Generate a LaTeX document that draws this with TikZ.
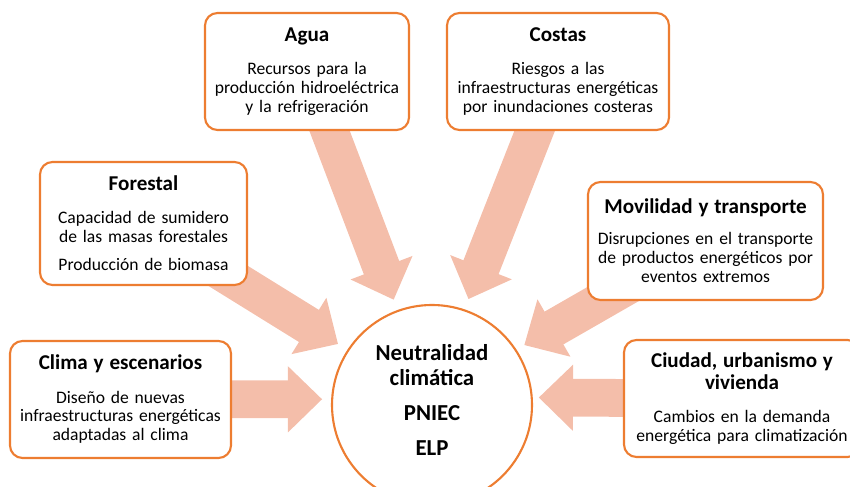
\documentclass[tikz,border=0pt]{standalone}
\usepackage{fontspec}
\setmainfont{Carlito}
\usetikzlibrary{arrows.meta,backgrounds}
\definecolor{naranja}{RGB}{237,125,49}
\definecolor{salmon}{RGB}{244,190,170}
\newcommand{\titulo}[1]{{\fontsize{12}{13}\selectfont\bfseries #1}}

\begin{document}
\begin{tikzpicture}[
  caja/.style={draw=naranja,line width=1.2pt,fill=white,rounded corners=0.25cm,
    align=center,inner xsep=0.1cm,minimum height=2.34cm,
    font=\fontsize{10}{10.8}\selectfont},
  flecha/.style={salmon,line width=21.5pt,-{Triangle[length=19.5pt,width=36.5pt]}}]
\useasboundingbox (0,0) rectangle (17,9.74);
% centro
\node[circle,draw=naranja,line width=1.2pt,fill=white,minimum size=4cm,
  label={[align=center,yshift=0.1cm,font=\fontsize{13}{14}\selectfont\bfseries]center:
  Neutralidad\\climática\\[6pt]PNIEC\\[6pt]ELP}] (neutra) at (8.64,1.64) {};
% sectores
\node[caja,text width=3.88cm] (agua) at (6.14,8.31)
  {\titulo{Agua}\\[8pt]Recursos para la\\producción hidroeléctrica\\y la refrigeración};
\node[caja,text width=4.24cm] (costas) at (11.16,8.31)
  {\titulo{Costas}\\[8pt]Riesgos a las\\infraestructuras energéticas\\por inundaciones costeras};
\node[caja,text width=3.94cm,minimum height=2.46cm] (forestal) at (2.87,5.27)
  {\titulo{Forestal}\\[8pt]Capacidad de sumidero\\de las masas forestales\\[5pt]Producción de biomasa};
\node[caja,text width=4.50cm,minimum height=2.36cm] (movil) at (14.11,4.92)
  {\titulo{Movilidad y transporte}\\[7pt]Disrupciones en el transporte\\de productos energéticos por\\eventos extremos};
\node[caja,text width=4.22cm] (clima) at (2.41,1.75)
  {\titulo{Clima y escenarios}\\[8pt]Diseño de nuevas\\infraestructuras energéticas\\adaptadas al clima};
\node[caja,text width=4.52cm] (ciudad) at (14.84,1.77)
  {\titulo{Ciudad, urbanismo y\\[1.5pt]vivienda}\\[8pt]Cambios en la demanda\\energética para climatización};
% puntas
\path (neutra.center) ++(110:2.24) coordinate (pAgua);
\path (neutra.center) ++(71:2.24) coordinate (pCostas);
\path (neutra.center) ++(147:2.24) coordinate (pForestal);
\path (neutra.center) ++(33:2.2) coordinate (pMovil);
\path (neutra.center) ++(177:2.2) coordinate (pClima);
\path (neutra.center) ++(4:2.14) coordinate (pCiudad);
% flechas
\begin{scope}[on background layer]
\draw[flecha] (agua.center) -- (pAgua);
\draw[flecha] (costas.center) -- (pCostas);
\draw[flecha] (forestal.center) -- (pForestal);
\draw[flecha] (movil.center) -- (pMovil);
\draw[flecha] (clima.center) -- (pClima);
\draw[flecha] (ciudad.center) -- (pCiudad);
\end{scope}
\end{tikzpicture}
\end{document}
